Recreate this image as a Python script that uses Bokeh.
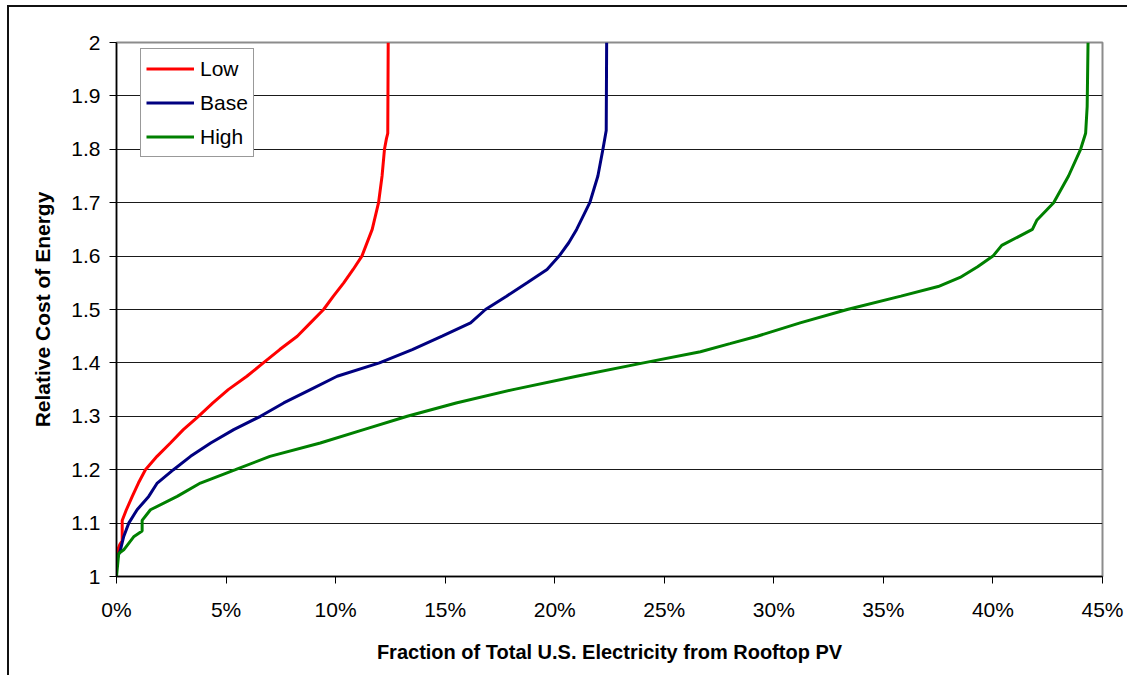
from bokeh.plotting import figure
from bokeh.models import FixedTicker, CustomJSTickFormatter, Legend, LegendItem
from bokeh.embed import file_html
from bokeh.resources import INLINE

# ---- data (x in % of total U.S. electricity, y = relative cost of energy) ----
low_x = [0.0, 0.06, 0.15, 0.26, 0.26, 0.45, 0.72, 1.0, 1.32, 1.85, 2.46, 3.05, 3.74, 4.4, 5.1,
         5.95, 6.7, 7.45, 8.25, 8.85, 9.45, 9.9, 10.37, 10.8, 11.2, 11.67, 11.96, 12.12,
         12.23, 12.32, 12.38, 12.4]
low_y = [1.04, 1.05, 1.06, 1.067, 1.105, 1.125, 1.15, 1.175, 1.20, 1.225, 1.25, 1.275, 1.30,
         1.325, 1.35, 1.375, 1.40, 1.425, 1.45, 1.475, 1.50, 1.525, 1.55, 1.575, 1.60, 1.65,
         1.70, 1.75, 1.80, 1.82, 1.83, 2.0]

base_x = [0.0, 0.18, 0.33, 0.56, 0.94, 1.47, 1.86, 2.6, 3.38, 4.3, 5.35, 6.57, 7.63, 8.85,
          10.07, 12.0, 13.5, 14.86, 16.16, 16.84, 17.8, 18.74, 19.65, 20.2, 20.64, 21.0,
          21.6, 21.97, 22.2, 22.35, 22.37]
base_y = [1.03, 1.05, 1.075, 1.10, 1.125, 1.15, 1.175, 1.20, 1.225, 1.25, 1.275, 1.30, 1.325,
          1.35, 1.375, 1.40, 1.425, 1.45, 1.475, 1.50, 1.525, 1.55, 1.575, 1.60, 1.625, 1.65,
          1.70, 1.75, 1.80, 1.835, 2.0]

high_x = [0.0, 0.1, 0.33, 0.8, 1.17, 1.17, 1.55, 2.77, 3.83, 5.43, 7.0, 9.3, 11.28, 13.27,
          15.5, 18.1, 21.0, 24.05, 26.65, 28.0, 29.24, 31.2, 33.35, 35.8, 37.5, 38.5, 39.3,
          40.0, 40.4, 41.8, 42.0, 42.77, 43.45, 44.0, 44.23, 44.3, 44.34]
high_y = [1.0, 1.043, 1.05, 1.075, 1.085, 1.105, 1.125, 1.15, 1.175, 1.20, 1.225, 1.25,
          1.275, 1.30, 1.325, 1.35, 1.375, 1.40, 1.421, 1.436, 1.45, 1.475, 1.50, 1.525,
          1.543, 1.56, 1.58, 1.60, 1.62, 1.65, 1.667, 1.70, 1.75, 1.80, 1.83, 1.88, 2.0]

x_ticks = [0, 5, 10, 15, 20, 25, 30, 35, 40, 45]
y_ticks = [1.0, 1.1, 1.2, 1.3, 1.4, 1.5, 1.6, 1.7, 1.8, 1.9, 2.0]
series_names = ["Low", "Base", "High"]
series_colors = ["#FF0000", "#000080", "#008000"]

FONT = "Liberation Sans"

p = figure(width=1120, height=670, output_backend="svg", toolbar_location=None,
           x_range=(0, 45), y_range=(1, 2),
           min_border_left=107, min_border_top=35, min_border_right=27, min_border_bottom=101)
p.styles = {"margin-left": "7px", "margin-top": "5px",
            "border-top": "2px solid #111", "border-left": "2px solid #111"}
p.background_fill_color = "white"
p.border_fill_color = "white"
p.outline_line_color = "#8c8c8c"
p.outline_line_width = 2

renderers = []
for xs, ys, c in zip([low_x, base_x, high_x], [low_y, base_y, high_y], series_colors):
    r = p.line(xs, ys, line_color=c, line_width=3)
    renderers.append(r)

# axes
p.xaxis.ticker = FixedTicker(ticks=x_ticks)
p.xaxis.formatter = CustomJSTickFormatter(code="return Math.round(tick) + '%';")
p.yaxis.ticker = FixedTicker(ticks=y_ticks)
p.yaxis.formatter = CustomJSTickFormatter(code="return (Math.round(tick*10)/10).toString();")

for ax in (p.xaxis[0], p.yaxis[0]):
    ax.major_tick_in = 0
    ax.major_tick_out = 7
    ax.minor_tick_line_color = None
    ax.axis_line_color = "#000000"
    ax.axis_line_width = 1.5
    ax.major_tick_line_color = "#000000"
    ax.major_label_text_font = FONT
    ax.major_label_text_font_size = "21px"
    ax.major_label_text_color = "#000000"
    ax.axis_label_text_font = FONT
    ax.axis_label_text_font_size = "20px"
    ax.axis_label_text_font_style = "bold"
    ax.axis_label_text_color = "#000000"

p.yaxis.axis_label_text_font_size = "21px"
p.xaxis.axis_label = "Fraction of Total U.S. Electricity from Rooftop PV"
p.yaxis.axis_label = "Relative Cost of Energy"
p.xaxis.major_label_standoff = 14
p.xaxis.axis_label_standoff = 17
p.yaxis.major_label_standoff = 9
p.yaxis.axis_label_standoff = 14

p.xgrid.grid_line_color = None
p.ygrid.ticker = FixedTicker(ticks=y_ticks[1:-1])
p.ygrid.grid_line_color = "#1a1a1a"
p.ygrid.grid_line_width = 1

legend = Legend(items=[LegendItem(label=n, renderers=[r]) for n, r in zip(series_names, renderers)],
                location=(24, 419))
legend.border_line_color = "#333333"
legend.border_line_width = 1
legend.background_fill_color = "white"
legend.background_fill_alpha = 1
legend.padding = 5
legend.spacing = 5
legend.margin = 0
legend.label_height = 29
legend.glyph_height = 29
legend.glyph_width = 48
legend.label_standoff = 6
legend.label_text_font = FONT
legend.label_text_font_size = "21px"
legend.label_text_color = "#000000"
p.add_layout(legend, "center")

open("out.html", "w").write(file_html(p, INLINE))
